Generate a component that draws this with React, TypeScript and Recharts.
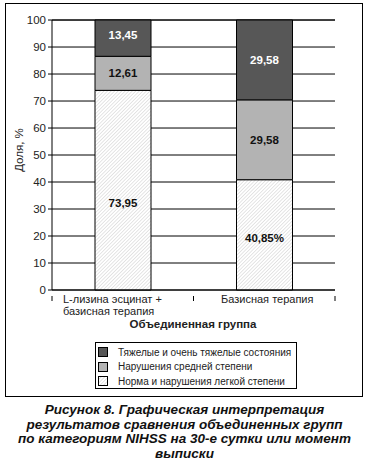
import React from "react";
import { BarChart, Bar, XAxis, YAxis, CartesianGrid, LabelList } from "recharts";

const categories = ["L-лизина эсцинат + базисная терапия", "Базисная терапия"];
const categoryLines = [["L-лизина эсцинат +", "базисная терапия"], ["Базисная терапия"]];
const lightValues = [73.95, 40.85];
const midValues = [12.61, 29.58];
const darkValues = [13.45, 29.58];
const lightLabels = ["73,95", "40,85%"];
const midLabels = ["12,61", "29,58"];
const darkLabels = ["13,45", "29,58"];
const yTicks = [0, 10, 20, 30, 40, 50, 60, 70, 80, 90, 100];
const seriesNames = [
  "Тяжелые и очень тяжелые состояния",
  "Нарушения средней степени",
  "Норма и нарушения легкой степени",
];
const captionLines = [
  "Рисунок 8. Графическая интерпретация",
  "результатов сравнения объединенных групп",
  "по категориям NIHSS на 30-е сутки или момент",
  "выписки",
];

const data = categories.map((c, i) => ({
  name: c,
  light: lightValues[i],
  mid: midValues[i],
  dark: darkValues[i],
  lightLabel: lightLabels[i],
  midLabel: midLabels[i],
  darkLabel: darkLabels[i],
}));

const FONT = "'Liberation Sans', Arial, sans-serif";
const DARK = "#575757";
const MID = "#b3b3b3";

const makeLabel = (color: string, extraDy?: (i: number) => number) => (props: any) => {
  const { x, y, width, height, value, index } = props;
  const dy = extraDy ? extraDy(index) : 0;
  return (
    <text
      x={x + width / 2}
      y={y + height / 2 + dy}
      textAnchor="middle"
      dominantBaseline="central"
      fill={color}
      fontSize={11.5}
      fontWeight="bold"
      fontFamily={FONT}
    >
      {value}
    </text>
  );
};

const XTick = (props: any) => {
  const { x, y, payload, index } = props;
  const half = payload && payload.offset ? payload.offset : 70.75;
  const lines = categoryLines[index] || [String(payload.value)];
  const anchorStart = lines.length > 1;
  const tx = anchorStart ? x - half + 11 : x + 3;
  return (
    <g>
      {index === 0 && <line x1={x - half} x2={x - half} y1={y - 2} y2={y + 3} stroke="#000" />}
      <line x1={x + half} x2={x + half} y1={y - 2} y2={y + 3} stroke="#000" />
      {lines.map((l: string, k: number) => (
        <text
          key={k}
          x={tx}
          y={y + 1 + k * 12}
          textAnchor={anchorStart ? "start" : "middle"}
          dominantBaseline="central"
          fontSize={11}
          fill="#222"
          fontFamily={FONT}
        >
          {l}
        </text>
      ))}
    </g>
  );
};

const Swatch = ({ fill, id }: { fill?: string; id?: string }) => (
  <svg width={10} height={10} style={{ display: "block", flexShrink: 0 }}>
    {id && (
      <defs>
        <pattern id={id} width="2.5" height="2.5" patternUnits="userSpaceOnUse" patternTransform="rotate(45)">
          <rect width="2.5" height="2.5" fill="#fff" />
          <line x1="0" y1="0" x2="0" y2="2.5" stroke="#c8c8c8" strokeWidth="1" />
        </pattern>
      </defs>
    )}
    <rect x={0.5} y={0.5} width={9} height={9} fill={id ? `url(#${id})` : fill} stroke="#000" />
  </svg>
);

export default function App() {
  return (
    <div style={{ position: "absolute", left: 0, top: 0, width: 369, height: 468, background: "#fff", fontFamily: FONT }}>
      <div
        style={{
          position: "absolute",
          left: 5,
          top: 3,
          width: 356,
          height: 392,
          border: "1.5px solid #000",
        }}
      />
      <div style={{ position: "absolute", left: 0, top: 0 }}>
        <BarChart width={369} height={340} data={data} margin={{ top: 20, right: 34, bottom: 0, left: 0 }}>
          <defs>
            <pattern id="hatch" width="2.5" height="2.5" patternUnits="userSpaceOnUse" patternTransform="rotate(45)">
              <rect width="2.5" height="2.5" fill="#fff" />
              <line x1="0" y1="0" x2="0" y2="2.5" stroke="#cccccc" strokeWidth="1" />
            </pattern>
          </defs>
          <CartesianGrid vertical={false} stroke="#000" strokeWidth={1} />
          <XAxis
            dataKey="name"
            height={50}
            axisLine={{ stroke: "#000" }}
            tickLine={false}
            tick={<XTick />}
            interval={0}
          />
          <YAxis
            width={52}
            domain={[0, 100]}
            ticks={yTicks}
            interval={0}
            axisLine={{ stroke: "#000" }}
            tickLine={{ stroke: "#000" }}
            tickSize={4}
            tickMargin={2}
            tick={{ fontSize: 11.5, fill: "#222", fontFamily: FONT }}
          />
          <YAxis yAxisId="r" orientation="right" width={0} domain={[0, 100]} tick={false} tickLine={false} axisLine={{ stroke: "#000" }} />
          <Bar dataKey="light" stackId="a" barSize={56} fill="url(#hatch)" stroke="#000" strokeWidth={1} isAnimationActive={false}>
            <LabelList dataKey="lightLabel" content={makeLabel("#111", (i) => (i === 0 ? 13 : 3))} />
          </Bar>
          <Bar dataKey="mid" stackId="a" barSize={56} fill={MID} stroke="#000" strokeWidth={1} isAnimationActive={false}>
            <LabelList dataKey="midLabel" content={makeLabel("#111")} />
          </Bar>
          <Bar dataKey="dark" stackId="a" barSize={56} fill={DARK} stroke="#000" strokeWidth={1} isAnimationActive={false}>
            <LabelList dataKey="darkLabel" content={makeLabel("#fff", (i) => (i === 0 ? -3 : 0))} />
          </Bar>
        </BarChart>
      </div>
      <div
        style={{
          position: "absolute",
          left: 19,
          top: 150,
          transform: "translate(-50%, -50%) rotate(-90deg)",
          fontSize: 11.5,
          color: "#222",
          whiteSpace: "nowrap",
        }}
      >
        Доля, %
      </div>
      <div
        style={{
          position: "absolute",
          left: 193,
          top: 324,
          transform: "translate(-50%, -50%)",
          fontSize: 11.5,
          fontWeight: "bold",
          color: "#222",
          whiteSpace: "nowrap",
        }}
      >
        Объединенная группа
      </div>
      <div
        style={{
          position: "absolute",
          left: 95,
          top: 342,
          width: 202,
          height: 47,
          border: "1px solid #000",
          boxSizing: "border-box",
          padding: "2px 0 0 2px",
        }}
      >
        {seriesNames.map((n, i) => (
          <div key={i} style={{ display: "flex", alignItems: "center", height: 14.5 }}>
            {i === 0 && <Swatch fill={DARK} />}
            {i === 1 && <Swatch fill={MID} />}
            {i === 2 && <Swatch id="hatchLegend" />}
            <span style={{ marginLeft: 10, fontSize: 10, color: "#222", whiteSpace: "nowrap" }}>{n}</span>
          </div>
        ))}
      </div>
      <div
        style={{
          position: "absolute",
          left: 0,
          width: 369,
          top: 403,
          textAlign: "center",
          fontSize: 13.5,
          lineHeight: "14.5px",
          fontWeight: "bold",
          fontStyle: "italic",
          color: "#111",
        }}
      >
        {captionLines.map((l, i) => (
          <div key={i} style={{ whiteSpace: "nowrap" }}>{l}</div>
        ))}
      </div>
    </div>
  );
}
